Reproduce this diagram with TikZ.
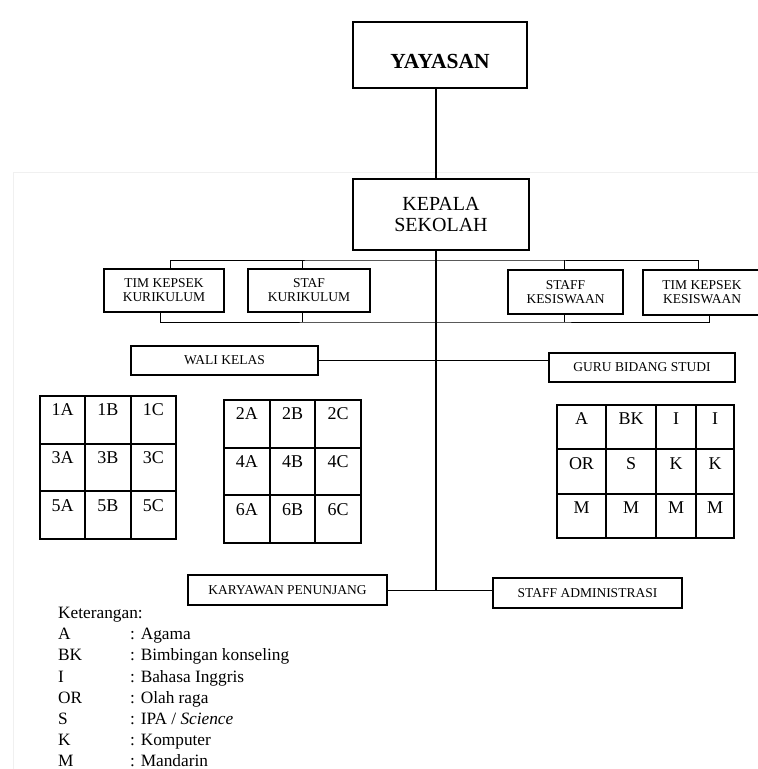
\documentclass[tikz,border=0pt]{standalone}
\usepackage{fontspec}
\setmainfont{Liberation Serif}
\usetikzlibrary{positioning}

\begin{document}
\begin{tikzpicture}[x=1pt,y=-1pt]
	\tikzstyle{kotak}=[draw,line width=2pt,inner sep=0pt,align=center,font=\fontsize{13.5}{14}\selectfont]
	\tikzstyle{sel}=[draw,line width=2pt,inner sep=0pt,anchor=north west,text height=19.8pt,font=\fontsize{18}{18}\selectfont]
	\tikzstyle{garis}=[line width=1pt]
	\tikzstyle{ket}=[anchor=base west,inner sep=0pt,font=\fontsize{17.3}{20}\selectfont]
	\useasboundingbox (0,0) rectangle (758,769);
	\draw[gray!12] (13,172) rectangle (770,780);
	\node[kotak,minimum width=174pt,minimum height=66pt,text height=27pt,text depth=0pt,font=\fontsize{21.5}{21}\selectfont\bfseries] (yay) at (440,55) {YAYASAN};
	\node[kotak,minimum width=176pt,minimum height=71pt,font=\fontsize{20}{21}\selectfont] (kep) at (441,214.5) {KEPALA\\SEKOLAH};
	\node[kotak,minimum width=120pt,minimum height=43pt] (tkk) at (164,290.5) {TIM KEPSEK\\KURIKULUM};
	\node[kotak,minimum width=122pt,minimum height=43pt] (sk) [right=22pt of tkk] {STAF\\KURIKULUM};
	\node[kotak,minimum width=115pt,minimum height=44pt] (skes) at (565.5,292) {STAFF\\KESISWAAN};
	\node[kotak,minimum width=118pt,minimum height=45pt] (tkkes) [right=18pt of skes] {TIM KEPSEK\\KESISWAAN};
	\node[kotak,minimum width=187pt,minimum height=29pt] (wali) at (224.5,360.5) {WALI KELAS};
	\node[kotak,minimum width=186pt,minimum height=29pt] (guru) at (642,367.5) {GURU BIDANG STUDI};
	\node[kotak,minimum width=199pt,minimum height=30pt] (kary) at (287.5,590) {KARYAWAN PENUNJANG};
	\node[kotak,minimum width=189pt,minimum height=30pt] (adm) at (587.5,593) {STAFF ADMINISTRASI};
	\coordinate (pusat) at (436,590);
	\coordinate (cabatas) at (436,260);
	\coordinate (cabbawah) at (436,322);
	\draw[line width=2pt] (yay.south -| pusat) -- (kep.north -| pusat);
	\draw[line width=1.3pt] (kep.south -| pusat) -- (pusat);
	\draw[garis] ([xshift=6pt]tkk.north) |- (cabatas) -| ([xshift=-4pt]tkkes.north);
	\draw[garis] ([xshift=-7pt]sk.north) -- ([xshift=-7pt]sk.north |- cabatas);
	\draw[garis] ([xshift=-1.5pt]skes.north) -- ([xshift=-1.5pt]skes.north |- cabatas);
	\draw[garis] ([xshift=-4pt]tkk.south) |- (cabbawah) -| ([xshift=7pt]tkkes.south);
	\draw[garis] ([xshift=-7pt]sk.south) -- ([xshift=-7pt]sk.south |- cabbawah);
	\draw[garis] ([xshift=-1.5pt]skes.south) -- ([xshift=-1.5pt]skes.south |- cabbawah);
	\draw[garis] (wali.east) -- (wali.east -| guru.west);
	\draw[garis] (kary.east) -- (kary.east -| adm.west);
	\foreach \kls [count=\i from 0] in {1A,1B,1C,3A,3B,3C,5A,5B,5C}{
		\pgfmathtruncatemacro\kol{mod(\i,3)}
		\pgfmathtruncatemacro\brs{\i/3}
		\node[sel,minimum width=45.33pt,minimum height=47.67pt,text depth=27.87pt] (k\kls) at (39+45.33*\kol,395+47.67*\brs) {\kls};
	}
	\foreach \kls [count=\i from 0] in {2A,2B,2C,4A,4B,4C,6A,6B,6C}{
		\pgfmathtruncatemacro\kol{mod(\i,3)}
		\pgfmathtruncatemacro\brs{\i/3}
		\node[sel,minimum width=45.67pt,minimum height=47.67pt,text depth=27.87pt] (k\kls) at (223+45.67*\kol,399+47.67*\brs) {\kls};
	}
	\foreach \x/\y/\w/\isi/\nm in {556/404/49/A/a1,605/404/50/BK/a2,655/404/40/I/a3,695/404/38/I/a4,
		556/448.33/49/OR/b1,605/448.33/50/S/b2,655/448.33/40/K/b3,695/448.33/38/K/b4,
		556/492.67/49/M/c1,605/492.67/50/M/c2,655/492.67/40/M/c3,695/492.67/38/M/c4}
		\node[sel,minimum width=\w pt,minimum height=44.33pt,text depth=24.53pt] (g\nm) at (\x,\y) {\isi};
	\node[ket] (keter) at (58,618.5) {Keterangan:};
	\foreach \sng/\arti [count=\i] in {A/Agama,BK/Bimbingan konseling,I/Bahasa Inggris,OR/Olah raga,S/{IPA / \textit{Science}},K/Komputer,M/Mandarin}{
		\node[ket] (sng\i) at (58,618.5+21.2*\i) {\sng};
		\node[ket] (arti\i) at (130,618.5+21.2*\i) {: \arti};
	}
\end{tikzpicture}
\end{document}
